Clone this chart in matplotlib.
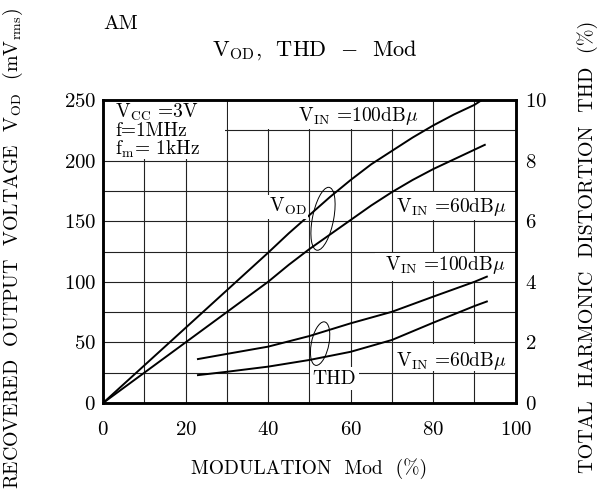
import matplotlib
matplotlib.use("Agg")
import matplotlib.pyplot as plt
from matplotlib.patches import Ellipse, Rectangle

plt.rcParams['font.family'] = ['cmr10', 'DejaVu Serif']
plt.rcParams['mathtext.fontset'] = 'cm'
plt.rcParams['axes.formatter.use_mathtext'] = True

# V_OD curves (left axis, mVrms)
mod_vod_100 = [0, 10, 20, 30, 40, 45, 50, 55, 60, 65, 70, 75, 80, 85, 90, 91.8]
vod_100 = [0, 31, 62, 93, 124, 140, 155, 170, 184, 197, 208, 219, 229, 238, 246, 250]
mod_vod_60 = [0, 10, 20, 30, 40, 45, 50, 55, 60, 65, 70, 75, 80, 85, 90, 92.5]
vod_60 = [0, 25, 50, 75, 100, 114, 127, 139, 151, 163, 174, 184, 193, 201, 209, 213]

# THD curves (right axis, %)
mod_thd = [23, 30, 40, 50, 60, 70, 80, 90, 93]
thd_100 = [1.45, 1.62, 1.86, 2.21, 2.63, 3.01, 3.51, 4.0, 4.17]
thd_60 = [0.92, 1.03, 1.2, 1.42, 1.69, 2.08, 2.65, 3.2, 3.35]

fig = plt.figure(figsize=(5.99, 5.0), dpi=100)
ax = fig.add_axes([0.172, 0.194, 0.689, 0.606])
ax2 = ax.twinx()

ax.set_xlim(0, 100)
ax.set_ylim(0, 250)
ax2.set_ylim(0, 10)

ax.set_xticks(range(0, 101, 10), minor=True)
ax.set_yticks(range(0, 251, 25), minor=True)
ax.set_xticks(range(0, 101, 20))
ax.set_yticks(range(0, 251, 50))
ax2.set_yticks(range(0, 11, 2))
ax.grid(which='both', color='#222222', linewidth=0.8)
ax.set_axisbelow(True)

ax.tick_params(which='both', length=0, labelsize=15)
ax.tick_params(axis='x', pad=13)
ax.tick_params(axis='y', pad=5)
ax2.tick_params(length=0, labelsize=15, pad=7)
for a in (ax, ax2):
    for s in a.spines.values():
        s.set_linewidth(1.8)

# white boxes behind the labels
for (x0, y0, w, h) in [(0, 201, 29.6, 49), (30.4, 226, 49.2, 24),
                        (70.4, 151, 29.6, 23), (66, 101, 34, 23),
                        (70.4, 26, 29.6, 23)]:
    ax.add_patch(Rectangle((x0, y0), w, h, facecolor='white',
                           edgecolor='none', zorder=1))

ax.plot(mod_vod_100, vod_100, color='black', lw=1.4, zorder=3)
ax.plot(mod_vod_60, vod_60, color='black', lw=1.4, zorder=3)
ax2.plot(mod_thd, thd_100, color='black', lw=1.4)
ax2.plot(mod_thd, thd_60, color='black', lw=1.4)

ax.add_patch(Ellipse((53.3, 152), 5.2, 52, angle=-3, fill=False,
                     edgecolor='black', lw=0.7, zorder=3))
ax.add_patch(Ellipse((52.6, 49), 4.3, 36, angle=-3, fill=False,
                     edgecolor='black', lw=0.7, zorder=3))

fs = 14
ax.text(3, 240, r'V$_{\rm CC}$ =3V', fontsize=fs, va='center', zorder=4)
ax.text(3, 224.5, 'f=1MHz', fontsize=fs, va='center', zorder=4)
ax.text(3, 209, r'f$_{\rm m}$= 1kHz', fontsize=fs, va='center', zorder=4)
ax.text(61.8, 237, r'V$_{\rm IN}$ =100dB$\mu$', fontsize=fs, ha='center', va='center', zorder=4)
ax.text(84.3, 162, r'V$_{\rm IN}$ =60dB$\mu$', fontsize=fs, ha='center', va='center', zorder=4)
ax.text(82.8, 114, r'V$_{\rm IN}$ =100dB$\mu$', fontsize=fs, ha='center', va='center', zorder=4)
ax.text(84.3, 35, r'V$_{\rm IN}$ =60dB$\mu$', fontsize=fs, ha='center', va='center', zorder=4)
ax.text(44.7, 162, r'V$_{\rm OD}$', fontsize=fs, ha='center', va='center', zorder=4,
        bbox=dict(facecolor='white', edgecolor='none', pad=1))
ax.text(56.1, 20, 'THD', fontsize=fs, ha='center', va='center', zorder=4,
        bbox=dict(facecolor='white', edgecolor='none', pad=2))

fig.text(0.172, 0.952, 'AM', fontsize=15, ha='left', va='center')
fig.text(0.526, 0.90, r'V$_{\rm OD}$,  THD  $-$  Mod', fontsize=16, ha='center', va='center')

ax.set_xlabel('MODULATION  Mod  (%)', fontsize=14, va='center')
ax.xaxis.set_label_coords(0.5, -0.215)
ax.set_ylabel(r'RECOVERED  OUTPUT  VOLTAGE  V$_{\rm OD}$  (mV$_{\rm rms}$)',
              fontsize=14.3, va='center')
ax.yaxis.set_label_coords(-0.218, 0.51)
ax2.set_ylabel('TOTAL  HARMONIC  DISTORTION  THD  (%)', fontsize=14.5,
               rotation=90, va='center')
ax2.yaxis.set_label_coords(1.174, 0.515)

fig.savefig('out.png', dpi=100)
